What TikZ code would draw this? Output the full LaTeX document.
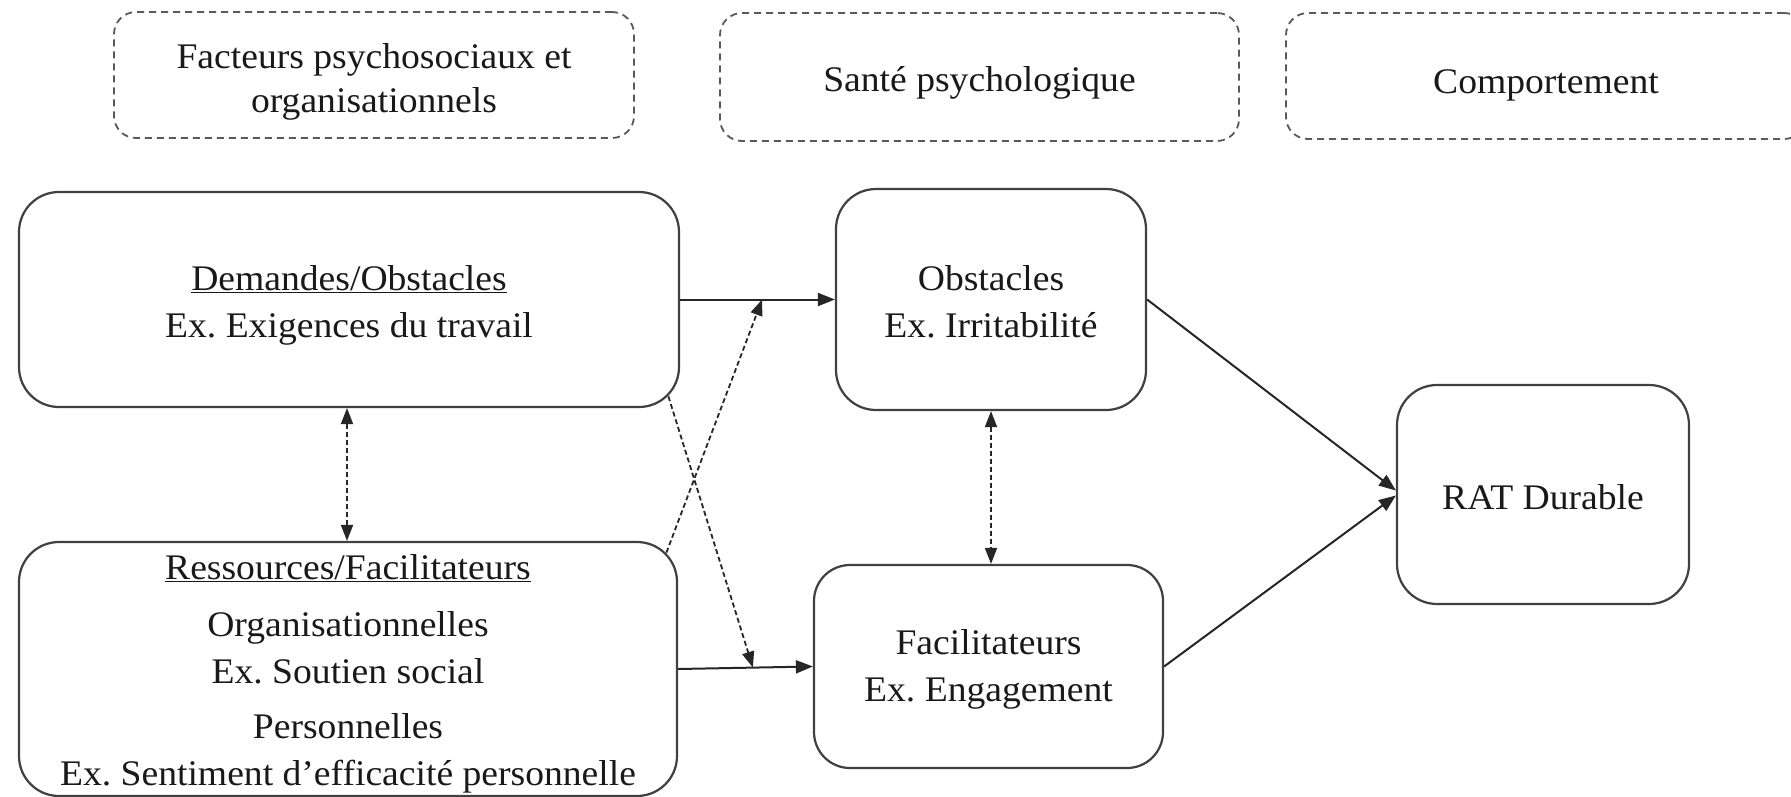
\documentclass[tikz,border=0pt]{standalone}
\usepackage{fontspec}
\setmainfont{Liberation Serif}[FakeStretch=1.045]
\usetikzlibrary{arrows.meta,calc}
\frenchspacing
\begin{document}
\begin{tikzpicture}[x=1pt,y=-1pt,
  every node/.style={inner sep=0pt},
  txt/.style={font=\fontsize{36}{47}\selectfont, text=black!90, align=center},
  htxt/.style={font=\fontsize{36}{44}\selectfont, text=black!90, align=center},
  hdr/.style={draw=black!65, line width=1.8pt, dash pattern=on 7pt off 5pt, rounded corners=22pt},
  box/.style={draw=black!75, line width=2.2pt, rounded corners=40pt},
  link/.style={draw=black!85, line width=2pt, -{Triangle[length=17pt,width=13pt]}},
  dlink/.style={draw=black!85, line width=1.8pt, dash pattern=on 5pt off 3pt, -{Triangle[length=16pt,width=12pt]}},
  dlinkb/.style={draw=black!85, line width=1.8pt, dash pattern=on 5pt off 3pt, {Triangle[length=16pt,width=12pt]}-{Triangle[length=16pt,width=12pt]}}
]
\useasboundingbox (0,0) rectangle (1791,797);
\fill[white] (0,0) rectangle (1791,797);

% header boxes
\node[hdr, minimum width=520pt, minimum height=126pt] (h1) at (374,75) {};
\node[hdr, minimum width=519pt, minimum height=128pt] (h2) at (979.5,77) {};
\node[hdr, minimum width=520pt, minimum height=126pt] (h3) at (1546,76) {};
\node[htxt] (h1t) at ($(h1.center)+(0,7)$) {Facteurs psychosociaux et\\organisationnels};
\node[htxt] (h2t) at ($(h2.center)+(0,6)$) {Santé psychologique};
\node[htxt] (h3t) at ($(h3.center)+(0,9)$) {Comportement};

% main boxes
\node[box, minimum width=660pt, minimum height=215pt] (dem) at (349,299.5) {};
\node[box, minimum width=658pt, minimum height=254pt] (res) at (348,669) {};
\node[box, minimum width=310pt, minimum height=221pt] (obs) at (991,299.5) {};
\node[box, minimum width=349pt, minimum height=203pt, rounded corners=36pt] (fac) at (988.5,666.5) {};
\node[box, minimum width=292pt, minimum height=219pt] (rat) at (1543,494.5) {};

\node[txt] (demt) at ($(dem.center)+(0,6)$) {\underline{Demandes/Obstacles}\\Ex. Exigences du travail};
\node[txt] (rest) at ($(res.center)+(0,5)$) {\underline{Ressources/Facilitateurs}\\[10pt]Organisationnelles\\Ex. Soutien social\\[8pt]Personnelles\\Ex. Sentiment d’efficacité personnelle};
\node[txt] (obst) at ($(obs.center)+(0,2)$) {Obstacles\\Ex. Irritabilité};
\node[txt] (fact) at ($(fac.center)+(0,3)$) {Facilitateurs\\Ex. Engagement};
\node[txt] (ratt) at ($(rat.center)+(0,3)$) {RAT Durable};

% helper points
\coordinate (m1) at ($(dem.east)!0.53!(obs.west)$);
\coordinate (m2) at ($(res.east)!0.555!(fac.west)$);
\coordinate (c1) at ($(res.north east)+(-11.7,11.7)$);
\coordinate (c2) at ($(dem.south east)+(-11.7,-11.7)$);

% connectors
\draw[link] (dem.east) -- (obs.west);
\draw[link] (res.east) -- (fac.west);
\draw[dlink] (c1) -- (m1);
\draw[dlink] (c2) -- (m2);
\draw[dlinkb] ($(dem.south)+(-2,0)$) -- ($(res.north)+(-1,0)$);
\draw[dlinkb] (obs.south) -- (obs.south |- fac.north);
\draw[link] (obs.east) -- ($(rat.west)+(0,-4)$);
\draw[link] (fac.east) -- ($(rat.west)+(0,1)$);
\end{tikzpicture}
\end{document}
